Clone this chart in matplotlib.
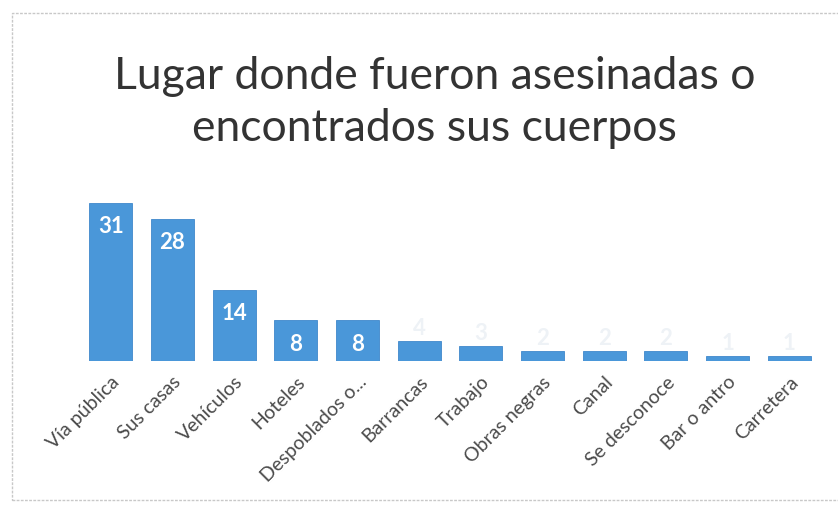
import matplotlib.pyplot as plt

categories = ['Vía pública', 'Sus casas', 'Vehículos', 'Hoteles', 'Despoblados o...',
              'Barrancas', 'Trabajo', 'Obras negras', 'Canal', 'Se desconoce',
              'Bar o antro', 'Carretera']
counts = [31, 28, 14, 8, 8, 4, 3, 2, 2, 2, 1, 1]

plt.rcParams['font.family'] = ['Lato', 'DejaVu Sans']

fig = plt.figure(figsize=(8.38, 5.12), dpi=100)
fig.patch.set_facecolor('white')

# chart frame like the scanned Excel chart border
frame = plt.Rectangle((12 / 838, 12 / 512), 1.2, 487 / 512, transform=fig.transFigure,
                      fill=False, edgecolor='#c8c8c8', linewidth=1, linestyle=(0, (2, 1)))
fig.add_artist(frame)

ax = fig.add_axes([80 / 838, 151 / 512, 740 / 838, 173 / 512])
x = range(len(categories))
ax.bar(x, counts, width=0.7, color='#4a97d9', edgecolor='#3f88cb', linewidth=0.6)

ax.set_xlim(-0.5, len(categories) - 0.5)
ax.set_ylim(0, 34)
for s in ax.spines.values():
    s.set_visible(False)
ax.set_yticks([])
ax.set_xticks(list(x))
ax.set_xticklabels(categories, rotation=45, ha='right', rotation_mode='anchor',
                   fontsize=14, color='#4a4a4a')
ax.tick_params(axis='x', length=0, pad=9)

for i, v in enumerate(counts):
    if v >= 8:
        ax.text(i, v - 2.6, str(v), ha='center', va='top', color='white',
                fontsize=16, fontweight='bold')
    else:
        ax.text(i, v + 0.4, str(v), ha='center', va='bottom', color='#eef2f6',
                fontsize=16, fontweight='bold')

fig.text(0.519, 0.80, 'Lugar donde fueron asesinadas o\nencontrados sus cuerpos',
         ha='center', va='center', fontsize=32, color='#333333', linespacing=1.32)

fig.savefig('out.png', dpi=100)
